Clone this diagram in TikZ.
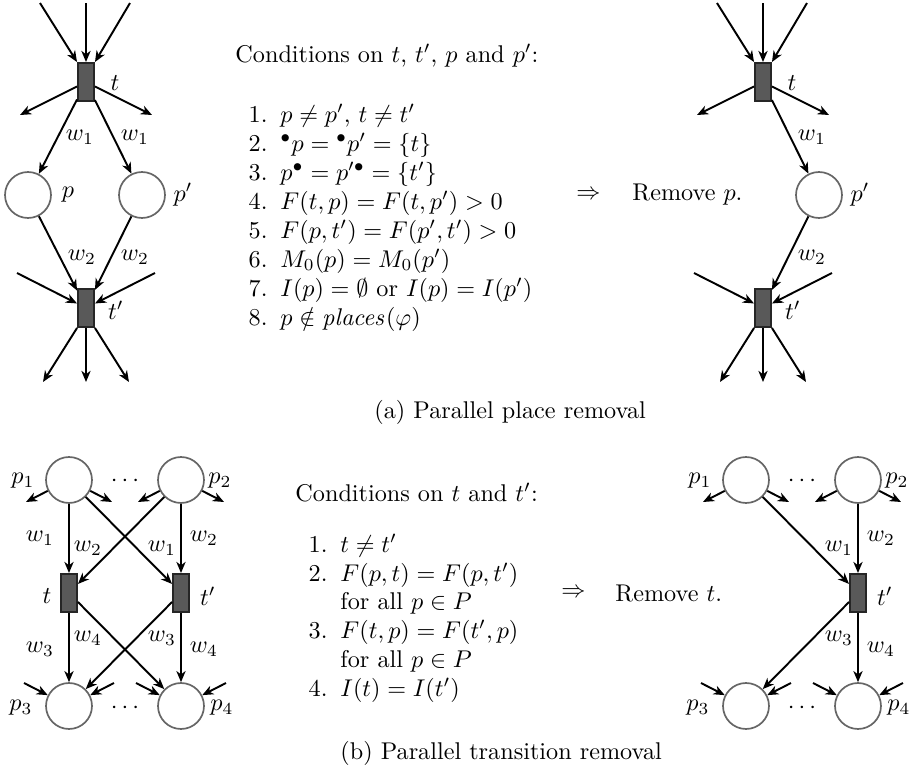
\documentclass[tikz,border=0pt]{standalone}
\usetikzlibrary{arrows.meta}
\begin{document}
\begin{tikzpicture}[x=0.4132pt,y=-0.4132pt,
  place/.style={circle,draw=black!60,line width=0.7pt,fill=white,minimum size=19pt,inner sep=0pt},
  trans/.style={rectangle,draw=black!85,fill=black!65,line width=0.8pt,minimum width=6.6pt,minimum height=15.7pt,inner sep=0pt},
  arc/.style={-{Stealth[length=4.6pt,width=3.8pt,inset=1.4pt]},line width=0.8pt},
  lbl/.style={inner sep=0pt},
  txt/.style={inner sep=0pt,anchor=base west},
  num/.style={inner sep=0pt,anchor=base east}]
\useasboundingbox (0,0) rectangle (919,769);

% ---------------- (a) left net ----------------
\node[trans] (ta) at (86,82) {};
\node[place] (pa) at (28,195) {};
\node[place] (ppa) at (142,195) {};
\node[trans] (tpa) at (86,308) {};
\coordinate (ia1) at (40,3);
\coordinate (ia2) at (86,3);
\coordinate (ia3) at (130,3);
\coordinate (oa1) at (20,115);
\coordinate (oa2) at (152,115);
\coordinate (ib1) at (17,273);
\coordinate (ib2) at (155,273);
\coordinate (ob1) at (43,382);
\coordinate (ob2) at (86,382);
\coordinate (ob3) at (129,382);
\draw[arc] (ia1) -- (ta.north west);
\draw[arc] (ia2) -- (ta.north);
\draw[arc] (ia3) -- (ta.north east);
\draw[arc] (ta) -- (oa1);
\draw[arc] (ta) -- (oa2);
\draw[arc] (ta) -- (pa);
\draw[arc] (ta) -- (ppa);
\draw[arc] (pa) -- (tpa);
\draw[arc] (ppa) -- (tpa);
\draw[arc] (ib1) -- (tpa);
\draw[arc] (ib2) -- (tpa);
\draw[arc] (tpa.south west) -- (ob1);
\draw[arc] (tpa.south) -- (ob2);
\draw[arc] (tpa.south east) -- (ob3);
\node[lbl] (lta) at (115,83) {$t$};
\node[lbl] (ltpa) at (116,310) {$t'$};
\node[lbl] (lpa) at (68,195) {$p$};
\node[lbl] (lppa) at (183,195) {$p'$};
\node[lbl] (wa1) at (80,137) {$w_1$};
\node[lbl] (wa2) at (135,137) {$w_1$};
\node[lbl] (wa3) at (82,257) {$w_2$};
\node[lbl] (wa4) at (135,257) {$w_2$};

% ---------------- (a) conditions ----------------
\node[txt] (ca) at (235,62) {Conditions on $t$, $t'$, $p$ and $p'$:};
\node[num] (ca1n) at (268,122) {1.};
\node[txt] (ca1) at (280,122) {$p \neq p'$, $t \neq t'$};
\node[num] (ca2n) at (268,151) {2.};
\node[txt] (ca2) at (280,151) {${}^{\bullet}p = {}^{\bullet}p' = \{t\}$};
\node[num] (ca3n) at (268,180) {3.};
\node[txt] (ca3) at (280,180) {$p^{\bullet} = p'^{\bullet} = \{t'\}$};
\node[num] (ca4n) at (268,209) {4.};
\node[txt] (ca4) at (280,209) {$F(t,p) = F(t,p') > 0$};
\node[num] (ca5n) at (268,238) {5.};
\node[txt] (ca5) at (280,238) {$F(p,t') = F(p',t') > 0$};
\node[num] (ca6n) at (268,267) {6.};
\node[txt] (ca6) at (280,267) {$M_0(p) = M_0(p')$};
\node[num] (ca7n) at (268,296) {7.};
\node[txt] (ca7) at (280,296) {$I(p) = \emptyset$ or $I(p) = I(p')$};
\node[num] (ca8n) at (268,325) {8.};
\node[txt] (ca8) at (280,325) {$p \notin \mathit{places}(\varphi)$};

\node[inner sep=0pt,anchor=west] (ra) at (576,195) {$\Rightarrow$};
\node[inner sep=0pt,anchor=west] (rta) at (632,195) {Remove $p$.};

% ---------------- (a) right net ----------------
\begin{scope}[shift={(677,0)}]
\node[trans] (ra_t) at (86,82) {};
\node[place] (ra_pp) at (142,195) {};
\node[trans] (ra_tp) at (86,308) {};
\coordinate (ra_i1) at (40,3);
\coordinate (ra_i2) at (86,3);
\coordinate (ra_i3) at (130,3);
\coordinate (ra_o1) at (20,115);
\coordinate (ra_o2) at (152,115);
\coordinate (ra_j1) at (17,273);
\coordinate (ra_j2) at (155,273);
\coordinate (ra_q1) at (43,382);
\coordinate (ra_q2) at (86,382);
\coordinate (ra_q3) at (129,382);
\draw[arc] (ra_i1) -- (ra_t.north west);
\draw[arc] (ra_i2) -- (ra_t.north);
\draw[arc] (ra_i3) -- (ra_t.north east);
\draw[arc] (ra_t) -- (ra_o1);
\draw[arc] (ra_t) -- (ra_o2);
\draw[arc] (ra_t) -- (ra_pp);
\draw[arc] (ra_pp) -- (ra_tp);
\draw[arc] (ra_j1) -- (ra_tp);
\draw[arc] (ra_j2) -- (ra_tp);
\draw[arc] (ra_tp.south west) -- (ra_q1);
\draw[arc] (ra_tp.south) -- (ra_q2);
\draw[arc] (ra_tp.south east) -- (ra_q3);
\node[lbl] (ra_lt) at (115,83) {$t$};
\node[lbl] (ra_ltp) at (116,310) {$t'$};
\node[lbl] (ra_lpp) at (183,195) {$p'$};
\node[lbl] (ra_w1) at (135,137) {$w_1$};
\node[lbl] (ra_w2) at (135,257) {$w_2$};
\end{scope}

\node[txt] (capa) at (374,418) {(a) Parallel place removal};

% ---------------- (b) left net ----------------
\node[place] (p1) at (69,480) {};
\node[place] (p2) at (181,480) {};
\node[trans] (tb) at (69,593) {};
\node[trans] (tpb) at (181,593) {};
\node[place] (p3) at (69,706) {};
\node[place] (p4) at (181,706) {};
\coordinate (s1) at (26,502);
\coordinate (s2) at (112,502);
\coordinate (s3) at (138,502);
\coordinate (s4) at (224,502);
\coordinate (s5) at (24,683);
\coordinate (s6) at (114,683);
\coordinate (s7) at (136,683);
\coordinate (s8) at (226,683);
\draw[arc] (p1) -- (s1);
\draw[arc] (p1) -- (s2);
\draw[arc] (p2) -- (s3);
\draw[arc] (p2) -- (s4);
\draw[arc] (s5) -- (p3);
\draw[arc] (s6) -- (p3);
\draw[arc] (s7) -- (p4);
\draw[arc] (s8) -- (p4);
\draw[arc] (p1) -- (tb);
\draw[arc] (p1) -- (tpb);
\draw[arc] (p2) -- (tb);
\draw[arc] (p2) -- (tpb);
\draw[arc] (tb) -- (p3);
\draw[arc] (tb) -- (p4);
\draw[arc] (tpb) -- (p3);
\draw[arc] (tpb) -- (p4);
\node[lbl] (lp1) at (23,481) {$p_1$};
\node[lbl] (lp2) at (220,481) {$p_2$};
\node[lbl] (lp3) at (21,708) {$p_3$};
\node[lbl] (lp4) at (222,708) {$p_4$};
\node[lbl] (d1) at (125,481) {$\cdots$};
\node[lbl] (d2) at (125,708) {$\cdots$};
\node[lbl] (ltb) at (47,596) {$t$};
\node[lbl] (ltpb) at (208,596) {$t'$};
\node[lbl] (wb1) at (40,538) {$w_1$};
\node[lbl] (wb2) at (88,548) {$w_2$};
\node[lbl] (wb3) at (162,548) {$w_1$};
\node[lbl] (wb4) at (204,538) {$w_2$};
\node[lbl] (wb5) at (40,649) {$w_3$};
\node[lbl] (wb6) at (88,638) {$w_4$};
\node[lbl] (wb7) at (162,638) {$w_3$};
\node[lbl] (wb8) at (204,649) {$w_4$};

% ---------------- (b) conditions ----------------
\node[txt] (cb) at (295,501) {Conditions on $t$ and $t'$:};
\node[num] (cb1n) at (328,552) {1.};
\node[txt] (cb1) at (340,552) {$t \neq t'$};
\node[num] (cb2n) at (328,581) {2.};
\node[txt] (cb2) at (340,581) {$F(p,t) = F(p,t')$};
\node[txt] (cb2b) at (340,609) {for all $p \in P$};
\node[num] (cb3n) at (328,638) {3.};
\node[txt] (cb3) at (340,638) {$F(t,p) = F(t',p)$};
\node[txt] (cb3b) at (340,667) {for all $p \in P$};
\node[num] (cb4n) at (328,696) {4.};
\node[txt] (cb4) at (340,696) {$I(t) = I(t')$};

\node[inner sep=0pt,anchor=west] (rb) at (561,593) {$\Rightarrow$};
\node[inner sep=0pt,anchor=west] (rtb) at (615,593) {Remove $t$.};

% ---------------- (b) right net ----------------
\begin{scope}[shift={(677,0)}]
\node[place] (rb_p1) at (69,480) {};
\node[place] (rb_p2) at (181,480) {};
\node[trans] (rb_tp) at (181,593) {};
\node[place] (rb_p3) at (69,706) {};
\node[place] (rb_p4) at (181,706) {};
\coordinate (rb_s1) at (26,502);
\coordinate (rb_s2) at (112,502);
\coordinate (rb_s3) at (138,502);
\coordinate (rb_s4) at (224,502);
\coordinate (rb_s5) at (24,683);
\coordinate (rb_s6) at (114,683);
\coordinate (rb_s7) at (136,683);
\coordinate (rb_s8) at (226,683);
\draw[arc] (rb_p1) -- (rb_s1);
\draw[arc] (rb_p1) -- (rb_s2);
\draw[arc] (rb_p2) -- (rb_s3);
\draw[arc] (rb_p2) -- (rb_s4);
\draw[arc] (rb_s5) -- (rb_p3);
\draw[arc] (rb_s6) -- (rb_p3);
\draw[arc] (rb_s7) -- (rb_p4);
\draw[arc] (rb_s8) -- (rb_p4);
\draw[arc] (rb_p1) -- (rb_tp);
\draw[arc] (rb_p2) -- (rb_tp);
\draw[arc] (rb_tp) -- (rb_p3);
\draw[arc] (rb_tp) -- (rb_p4);
\node[lbl] (rb_lp1) at (23,481) {$p_1$};
\node[lbl] (rb_lp2) at (220,481) {$p_2$};
\node[lbl] (rb_lp3) at (21,708) {$p_3$};
\node[lbl] (rb_lp4) at (222,708) {$p_4$};
\node[lbl] (rb_d1) at (125,481) {$\cdots$};
\node[lbl] (rb_d2) at (125,708) {$\cdots$};
\node[lbl] (rb_ltp) at (208,596) {$t'$};
\node[lbl] (rb_w1) at (162,548) {$w_1$};
\node[lbl] (rb_w2) at (204,538) {$w_2$};
\node[lbl] (rb_w3) at (162,638) {$w_3$};
\node[lbl] (rb_w4) at (204,649) {$w_4$};
\end{scope}

\node[txt] (capb) at (340,759) {(b) Parallel transition removal};
\end{tikzpicture}
\end{document}
